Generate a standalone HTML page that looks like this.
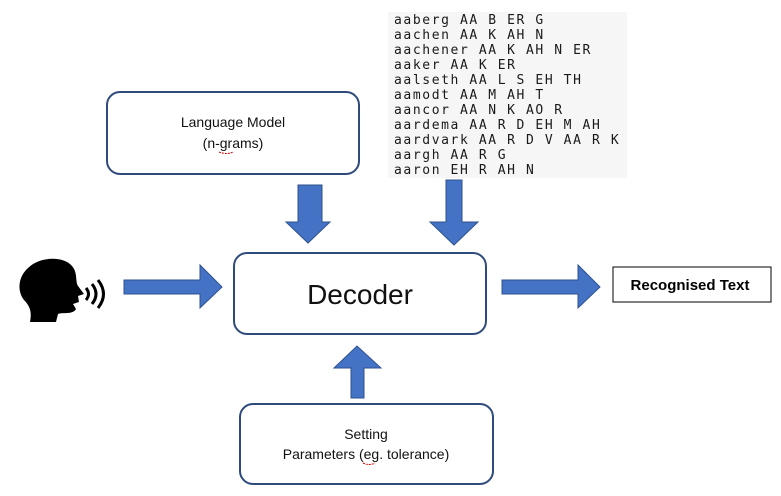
<!DOCTYPE html>
<html><head><meta charset="utf-8"><style>
body{margin:0;background:#fff;width:781px;height:491px;overflow:hidden;font-family:"Liberation Sans",sans-serif}
</style></head><body>
<svg width="781" height="491" viewBox="0 0 781 491" xmlns="http://www.w3.org/2000/svg">
<rect x="388" y="12" width="239" height="166" fill="#f6f6f6"/>
<g font-family="DejaVu Sans Mono, monospace" font-size="13" fill="#1a1a1a" letter-spacing="1.6">
<text x="394" y="24">aaberg AA B ER G</text>
<text x="394" y="39">aachen AA K AH N</text>
<text x="394" y="54">aachener AA K AH N ER</text>
<text x="394" y="69">aaker AA K ER</text>
<text x="394" y="84">aalseth AA L S EH TH</text>
<text x="394" y="99">aamodt AA M AH T</text>
<text x="394" y="114">aancor AA N K AO R</text>
<text x="394" y="129">aardema AA R D EH M AH</text>
<text x="394" y="144">aardvark AA R D V AA R K</text>
<text x="394" y="159">aargh AA R G</text>
<text x="394" y="174">aaron EH R AH N</text>
</g>
<g fill="#fff" stroke="#2f4b7c" stroke-width="2">
<rect x="107" y="92" width="252" height="82" rx="13"/>
<rect x="234" y="253" width="252" height="81" rx="13"/>
<rect x="240" y="404" width="253" height="80" rx="13"/>
</g>
<rect x="613" y="267" width="158" height="35" fill="#fff" stroke="#000" stroke-width="1"/>
<g fill="#4472c4" stroke="#2f528f" stroke-width="1">
<polygon points="298,185 322,185 322,222 330,222 308,243 286,222 298,222"/>
<polygon points="446,180 462,180 462,222 478,222 454,245 430,222 446,222"/>
<polygon points="124,280 200,280 200,265 222,287 200,308 200,294 124,294"/>
<polygon points="502,280 578,280 578,265 600,287 578,308 578,294 502,294"/>
<polygon points="351,398 364,398 364,368 381,368 357,346 334,368 351,368"/>
</g>
<g font-size="14" fill="#111" text-anchor="middle">
<text x="233" y="127">Language Model</text>
<text x="233" y="148">(n-grams)</text>
<text x="366" y="439">Setting</text>
<text x="366" y="459">Parameters (eg. tolerance)</text>
</g>
<text x="360" y="304" font-size="28" text-anchor="middle" fill="#111">Decoder</text>
<text x="690" y="290" font-size="15" font-weight="bold" text-anchor="middle" fill="#000">Recognised Text</text>
<path d="M219,152 q8,3 14,0" stroke="#d00" stroke-width="1" fill="none" stroke-dasharray="2,1"/>
<path d="M363,463 q6,3 12,0" stroke="#d00" stroke-width="1" fill="none" stroke-dasharray="2,1"/>
<path d="M28,268 C40,256 64,256 72,266 C78,273 75,281 78,286 L84,294 L78,296 L79,302 L73,304 L76,309 C73,315 62,312 58,314 L56,322 L30,322 C32,312 30,306 24,300 C17,291 18,277 28,268 Z" fill="#000"/>
<path d="M86,288 q5,6 0,12" stroke="#000" stroke-width="3" fill="none"/>
<path d="M92,284 q8,10 0,20" stroke="#000" stroke-width="3" fill="none"/>
<path d="M98,280 q11,14 0,28" stroke="#000" stroke-width="3" fill="none"/>
</svg>
</body></html>
